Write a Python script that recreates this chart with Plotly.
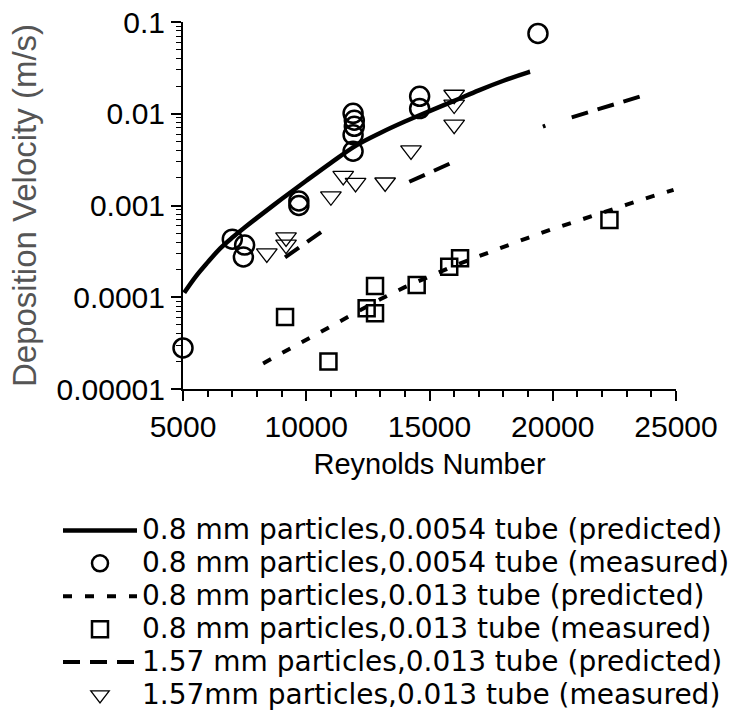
import plotly.graph_objects as go

FONT = "Liberation Sans, Arial, Helvetica, sans-serif"
LEG_FONT = "DejaVu Sans, Liberation Sans, sans-serif"

# ---- data ----
# 0.8 mm particles, 0.0054 tube (predicted)
re_pred_054 = [5050, 5500, 6000, 6500, 7000, 7500, 8000, 9000, 10000, 11000, 12000, 13000, 14000,
               15000, 16000, 17000, 18000, 19000, 19080]
vd_pred_054 = [1.12e-4, 1.66e-4, 2.40e-4, 3.39e-4, 4.47e-4, 5.75e-4, 7.33e-4, 1.175e-3, 1.86e-3, 2.92e-3,
               4.47e-3, 6.17e-3, 8.22e-3, 0.0107, 0.0138, 0.0180, 0.0229, 0.0283, 0.0287]

# 0.8 mm particles, 0.0054 tube (measured)
re_meas_054 = [5000, 7000, 7500, 7450, 9700, 9700, 11900, 11950, 11950, 11900, 11900, 14600, 14600, 19400]
vd_meas_054 = [2.8e-5, 4.3e-4, 3.7e-4, 2.75e-4, 1.12e-3, 1.0e-3, 0.0101, 0.0085, 0.0073, 0.0059, 0.0039,
               0.0155, 0.0114, 0.075]

# 0.8 mm particles, 0.013 tube (predicted)
re_pred_013 = [8250, 9000, 10000, 11000, 12000, 13000, 14000, 15000, 16000, 17000,
               18000, 19000, 20000, 21000, 22000, 23000, 24000, 24900]
vd_pred_013 = [1.9e-5, 2.45e-5, 3.47e-5, 4.95e-5, 6.9e-5, 9.5e-5, 1.29e-4, 1.7e-4, 2.2e-4, 2.8e-4,
               3.55e-4, 4.45e-4, 5.55e-4, 6.85e-4, 8.4e-4, 1.02e-3, 1.25e-3, 1.48e-3]

# 0.8 mm particles, 0.013 tube (measured)
re_meas_013 = [9140, 10900, 12450, 12790, 12790, 14480, 15800, 16240, 22300]
vd_meas_013 = [6.1e-5, 2.0e-5, 7.6e-5, 6.7e-5, 1.33e-4, 1.36e-4, 2.15e-4, 2.66e-4, 6.95e-4]

# 1.57 mm particles, 0.013 tube (predicted)  (None = gaps seen in the reference line)
re_pred_157 = [9140, 10000, 10630, 12400, 14180, 15000, 15900, 17800, 19600, 19700, 20200,
               20770, 22000, 23000, 23740]
vd_pred_157 = [2.72e-4, 3.98e-4, 5.19e-4, None, 1.815e-3, 2.29e-3, 2.92e-3, None, 7.24e-3, 7.41e-3, None,
               9.14e-3, 0.0116, 0.01396, 0.0160]

# 1.57 mm particles, 0.013 tube (measured)
re_meas_157 = [8400, 9180, 9180, 11000, 11500, 12000, 13200, 14250, 16000, 16000, 16000]
vd_meas_157 = [3.0e-4, 4.5e-4, 3.74e-4, 1.26e-3, 2.1e-3, 1.76e-3, 1.78e-3, 3.98e-3, 0.0161, 0.0126, 0.0076]

names = [
    "0.8 mm particles,0.0054 tube (predicted)",
    "0.8 mm particles,0.0054 tube (measured)",
    "0.8 mm particles,0.013 tube (predicted)",
    "0.8 mm particles,0.013 tube (measured)",
    "1.57 mm particles,0.013 tube (predicted)",
    "1.57mm particles,0.013 tube (measured)",
]

x_ticks = [5000, 10000, 15000, 20000, 25000]
y_ticks = [1e-5, 1e-4, 1e-3, 1e-2, 1e-1]
y_ticktext = ["0.00001", "0.0001", "0.001", "0.01", "0.1"]
y_minor = [k * d for d in [1e-5, 1e-4, 1e-3, 1e-2] for k in range(2, 10)]


def lab(s):
    return '<span style="font-size:28px">' + s + '</span>'


fig = go.Figure()
fig.add_trace(go.Scatter(x=re_pred_054, y=vd_pred_054, mode="lines", name=lab(names[0]),
                         line=dict(color="black", width=4.5, shape="spline", smoothing=1),
                         cliponaxis=False))
fig.add_trace(go.Scatter(x=re_meas_054, y=vd_meas_054, mode="markers", name=lab(names[1]),
                         marker=dict(symbol="circle-open", size=19, color="black",
                                     line=dict(width=2.5, color="black")), cliponaxis=False))
fig.add_trace(go.Scatter(x=re_pred_013, y=vd_pred_013, mode="lines", name=lab(names[2]),
                         line=dict(color="black", width=4, dash="9px,13px"), cliponaxis=False))
fig.add_trace(go.Scatter(x=re_meas_013, y=vd_meas_013, mode="markers", name=lab(names[3]),
                         marker=dict(symbol="square-open", size=16, color="black",
                                     line=dict(width=2.5, color="black")), cliponaxis=False))
fig.add_trace(go.Scatter(x=re_pred_157, y=vd_pred_157, mode="lines", name=lab(names[4]),
                         connectgaps=False,
                         line=dict(color="black", width=4, dash="17px,10px"), cliponaxis=False))
fig.add_trace(go.Scatter(x=re_meas_157, y=vd_meas_157, mode="markers", name=lab(names[5]),
                         marker=dict(symbol="triangle-down-open", size=18, color="black",
                                     line=dict(width=1.3, color="black")), cliponaxis=False))

W, H = 749, 725
L, R, T, B = 183, 73, 22, 336
PW, PH = W - L - R, H - T - B

fig.update_layout(
    width=W, height=H,
    margin=dict(l=L, r=R, t=T, b=B, autoexpand=False),
    paper_bgcolor="white", plot_bgcolor="white",
    font=dict(family=FONT, color="black"),
    showlegend=True,
    legend=dict(
        x=(58 - L) / PW, xanchor="left",
        y=(H - B - 509) / PH, yanchor="top",
        font=dict(family=LEG_FONT, size=23, color="black"),
        itemwidth=74, bgcolor="rgba(0,0,0,0)", borderwidth=0,
        tracegroupgap=0,
    ),
    xaxis=dict(
        range=[5000, 25000], tickmode="array", tickvals=x_ticks,
        ticktext=[str(v) for v in x_ticks],
        ticks="outside", ticklen=10, tickwidth=1.5, tickcolor="black",
        showline=True, linewidth=2, linecolor="black", mirror=False,
        showgrid=False, zeroline=False,
        tickfont=dict(family=FONT, size=30, color="black"),
        title=dict(text="Reynolds Number", font=dict(family=FONT, size=29, color="black"), standoff=12),
        minor=dict(ticks="outside", ticklen=6, tickwidth=1.5, tickcolor="black", dtick=1000, showgrid=False),
    ),
    yaxis=dict(
        type="log", range=[-5, -1], tickmode="array", tickvals=y_ticks, ticktext=y_ticktext,
        ticks="outside", ticklen=10, tickwidth=1.5, tickcolor="black",
        showline=True, linewidth=2, linecolor="black", mirror=False,
        showgrid=False, zeroline=False,
        tickfont=dict(family=FONT, size=30, color="black"),
        title=dict(text="Deposition Velocity (m/s)", font=dict(family=FONT, size=33, color="#555555"),
                   standoff=10),
        minor=dict(ticks="outside", ticklen=5, tickwidth=1.2, tickcolor="black", tickvals=y_minor,
                   showgrid=False),
    ),
)

fig.write_html("out.html")
